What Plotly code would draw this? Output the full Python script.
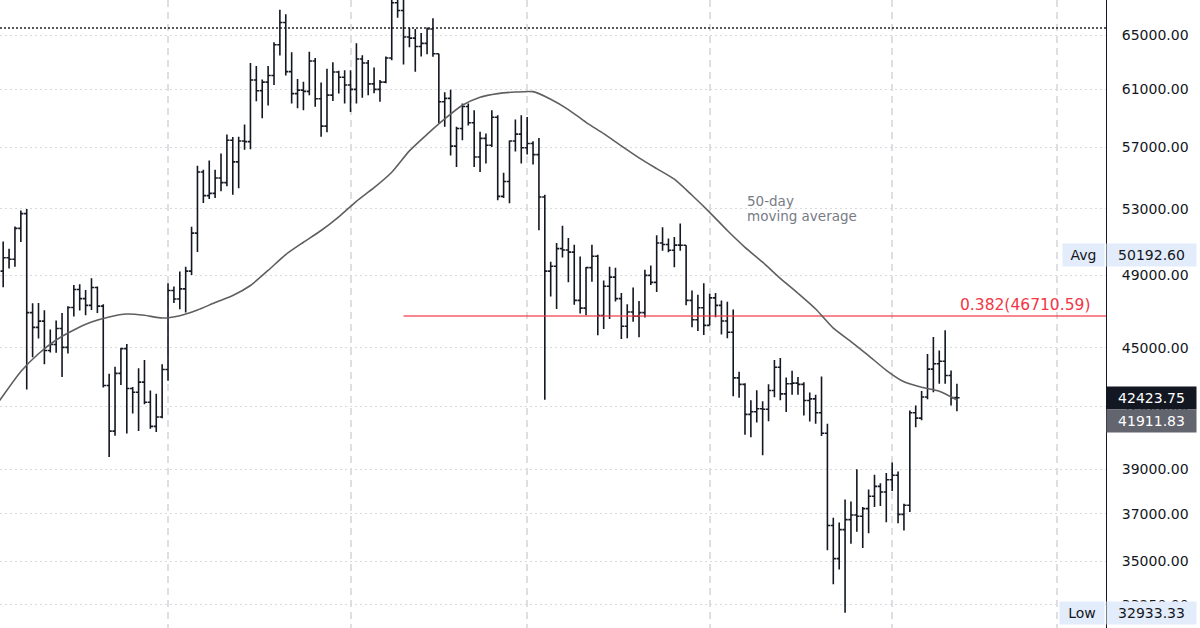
import math
import pandas as pd
import plotly.graph_objects as go

# ---- daily OHLC, 2021-09-03 .. 2022-02-12 ----
start_date = "2021-09-03"
open_ = [49250, 50030, 49940, 51790, 52700, 46900, 46090, 46430, 44850, 45170, 46030, 45020, 47180, 48190, 47680, 47300, 48310, 47260, 43040, 40790, 43660, 44950, 42890, 42700, 43210, 42200, 41020, 41470,
         43860, 48140, 47660, 48230, 49250, 51500, 55350, 53830, 53970, 54960, 54660, 57460, 56010, 57400, 57360, 61680, 60900, 61530, 62010, 64300, 66000, 62290, 60700, 60950, 60860, 63080, 60330, 58420, 60590, 62270, 61880,
         61320, 61000, 63220, 62930, 61400, 61000, 61530, 63300, 67550, 66940, 64880, 64800, 64160, 64400, 65500, 63620, 60120, 60360, 57060, 58260, 59780, 58650, 56330, 57580, 57120, 59030, 53780, 54730, 57400, 57870,
         56950, 57240, 56490, 53740, 49250, 49530, 50570, 50490, 50360, 47580, 47150, 49450, 50120, 46740, 48380, 48900, 47680, 46150, 46930, 46700, 46900, 49000, 48600, 50910, 50820, 50470, 50780, 50770, 47580, 46510, 47170,
         46200, 47720, 47300, 46440, 45830, 43430, 43100, 41600, 41730, 41880, 41850, 42790, 43980, 42620, 43130, 43160, 43100, 42290, 42370, 41680, 40690, 36500, 35100, 36320, 36750, 36950, 36900, 37230, 37780, 38220, 37970,
         38520, 38720, 36980, 37380, 41680, 41420, 42460, 43880, 44160, 44290, 43550, 42430]
high = [51000, 50560, 51900, 52900, 52980, 47420, 47430, 47030, 45970, 46460, 46880, 47250, 48450, 48490, 48170, 48840, 48370, 47360, 43640, 44000, 44980, 45200, 42970, 43920, 44350, 42790, 42630, 44130,
        48550, 48360, 49230, 49500, 51890, 55750, 55500, 56100, 55500, 56560, 57840, 57680, 57700, 58530, 62930, 62700, 61720, 62700, 64490, 67000, 66640, 63730, 61750, 61560, 63770, 63300, 61500, 62500, 62980, 62360, 62400,
        62400, 64400, 63500, 63150, 62600, 61680, 63420, 67790, 68530, 69000, 65620, 65500, 65190, 65620, 66330, 63620, 60800, 60980, 58380, 59990, 60000, 59530, 58030, 57910, 59530, 59180, 55300, 57440, 58870, 59180,
        59050, 57380, 57600, 53880, 49800, 50900, 51950, 51200, 50800, 50100, 49490, 50800, 50200, 48700, 49500, 49440, 47990, 47360, 48300, 47540, 49330, 49580, 51380, 51860, 51180, 51260, 52090, 50770, 48140, 47900, 48550,
        47950, 47990, 47570, 47500, 47070, 43750, 43150, 42300, 42800, 42250, 43100, 44350, 44460, 43450, 43800, 43480, 43200, 42690, 42580, 43500, 41150, 36830, 36630, 37630, 37550, 39000, 37300, 38080, 38750, 38360, 38830,
        39310, 38900, 37450, 41790, 42040, 42760, 44670, 45570, 44850, 45930, 43810, 43130]
low = [48320, 49400, 49500, 50970, 42840, 44500, 45490, 44130, 44750, 44740, 43470, 44690, 46690, 47020, 46750, 47050, 46880, 42940, 39560, 40570, 43070, 40680, 41650, 40800, 42100, 40900, 40750, 41410,
       43280, 47440, 47090, 46900, 49020, 50370, 53360, 53620, 53680, 54100, 54420, 53880, 54300, 56820, 56850, 60150, 58960, 59850, 61320, 63480, 62000, 60000, 59670, 59530, 60590, 59770, 57690, 58000, 60170, 60700, 60000,
       59400, 60000, 60400, 60590, 60720, 60120, 61440, 63130, 66380, 62820, 64100, 62290, 63420, 63580, 63400, 58640, 58370, 56440, 55680, 57460, 58470, 55680, 55350, 55900, 57000, 53530, 53670, 53350, 56700, 55900,
       56500, 55840, 51670, 42320, 47800, 47100, 50040, 48600, 47330, 46850, 46750, 48640, 45670, 46000, 46550, 47510, 45460, 45500, 46400, 45560, 46630, 48450, 48050, 50450, 50350, 49480, 50450, 47310, 46100, 45900, 45680,
       46200, 46650, 45700, 45500, 42500, 42430, 40610, 40500, 41200, 39650, 41270, 42450, 42300, 41720, 42580, 42580, 41550, 41250, 41140, 40550, 35450, 34060, 34650, 32933.33, 35720, 36230, 35540, 36170, 37300, 37350, 36640,
       38010, 36600, 36280, 37080, 40970, 41310, 42350, 42700, 43130, 43130, 42040, 41760]
close = [50030, 49940, 51790, 52700, 46900, 46090, 46430, 44850, 45170, 46030, 45020, 47180, 48190, 47680, 47300, 48310, 47260, 43040, 40790, 43660, 44950, 42890, 42700, 43210, 42200, 41020, 41470, 43860,
         48140, 47660, 48230, 49250, 51500, 55350, 53830, 53970, 54960, 54660, 57460, 56010, 57400, 57360, 61680, 60900, 61530, 62010, 64300, 66000, 62290, 60700, 60950, 60860, 63080, 60330, 58420, 60590, 62270, 61880, 61320,
         61000, 63220, 62930, 61400, 61000, 61530, 63300, 67550, 66940, 64880, 64800, 64160, 64400, 65500, 63620, 60120, 60360, 57060, 58260, 59780, 58650, 56330, 57580, 57120, 59030, 53780, 54730, 57400, 57870, 56950,
         57240, 56490, 53740, 49250, 49530, 50570, 50490, 50360, 47580, 47150, 49450, 50120, 46740, 48380, 48900, 47680, 46150, 46930, 46700, 46900, 49000, 48600, 50910, 50820, 50470, 50780, 50770, 47580, 46510, 47170, 46200,
         47720, 47300, 46440, 45830, 43430, 43100, 41600, 41730, 41880, 41850, 42790, 43980, 42620, 43130, 43160, 43100, 42290, 42370, 41680, 40690, 36500, 35100, 36320, 36750, 36950, 36900, 37230, 37780, 38220, 37970, 38520,
         38720, 36980, 37380, 41680, 41420, 42460, 43880, 44160, 44290, 43550, 42430, 42423.75]

# ---- 50-day moving average (read every 3 days) ----
ma_dates = ["2021-09-02", "2021-09-03", "2021-09-06", "2021-09-09", "2021-09-12", "2021-09-15", "2021-09-18", "2021-09-21", "2021-09-24", "2021-09-27", "2021-09-30",
            "2021-10-03", "2021-10-06", "2021-10-09", "2021-10-12", "2021-10-15", "2021-10-18", "2021-10-21", "2021-10-24", "2021-10-27", "2021-10-30",
            "2021-11-02", "2021-11-05", "2021-11-08", "2021-11-11", "2021-11-14", "2021-11-17", "2021-11-20", "2021-11-23", "2021-11-26", "2021-11-29",
            "2021-12-02", "2021-12-05", "2021-12-08", "2021-12-11", "2021-12-14", "2021-12-17", "2021-12-20", "2021-12-23", "2021-12-26", "2021-12-29",
            "2022-01-01", "2022-01-04", "2022-01-07", "2022-01-10", "2022-01-13", "2022-01-16", "2022-01-19", "2022-01-22", "2022-01-25", "2022-01-28", "2022-01-31",
            "2022-02-03", "2022-02-06", "2022-02-09", "2022-02-12"]
ma_values = [42120, 42540, 43760, 44680, 45410, 45950, 46380, 46660, 46820, 46750, 46600,
             46730, 47040, 47460, 47850, 48420, 49290, 50220, 50950, 51660, 52500,
             53470, 54330, 55330, 56740, 57860, 58920, 59870, 60440, 60700, 60810,
             60840, 60300, 59570, 58680, 57900, 57080, 56280, 55570, 54880, 53850,
             52780, 51660, 50650, 49770, 48830, 47980, 47100, 46050, 45330, 44580, 43820,
             43230, 42950, 42750, 42310]

# ---- levels / labels ----
fib_level = 46710.59
fib_start = "2021-11-10"
dotted_level = 65580
avg_value = 50192.60
low_value = 32933.33
last_price = 42423.75
ma_last = 41911.83
ytick_vals = [33250, 35000, 37000, 39000, 42000, 45000, 49000, 53000, 57000, 61000, 65000]
month_lines = ["2021-10-01", "2021-11-01", "2021-12-01", "2022-01-01", "2022-02-01", "2022-03-01"]
x_range = ["2021-09-02 11:03", "2022-03-09 07:40"]

dates = pd.date_range(start_date, periods=len(close), freq="D")

FONT = "DejaVu Sans"
INK = "#131722"
PLOT_W = 1106

fig = go.Figure()

fig.add_trace(go.Scatter(x=[x_range[0], x_range[1]], y=[dotted_level, dotted_level], mode="lines",
                         line=dict(color="#222222", width=1.5, dash="2px,2px"), hoverinfo="skip"))

fig.add_trace(go.Scatter(x=[fib_start, x_range[1]], y=[fib_level, fib_level], mode="lines",
                         line=dict(color="rgba(242,54,69,0.8)", width=1.5), hoverinfo="skip"))

fig.add_trace(go.Scatter(x=ma_dates, y=ma_values, mode="lines",
                         line=dict(color="#5f5f5f", width=1.6, shape="spline", smoothing=0.6), hoverinfo="skip"))

fig.add_trace(go.Ohlc(x=dates, open=open_, high=high, low=low, close=close,
                      increasing=dict(line=dict(color=INK, width=1.6)),
                      decreasing=dict(line=dict(color=INK, width=1.6)),
                      tickwidth=0.45, hoverinfo="skip"))

annotations = []
annotations.append(dict(xref="paper", yref="y", x=1092 / PLOT_W, y=math.log10(fib_level), xanchor="right", yanchor="bottom",
                        text="0.382(46710.59)", showarrow=False, yshift=0,
                        font=dict(family=FONT, size=15.5, color="#f23645")))
annotations.append(dict(xref="paper", yref="paper", x=745 / PLOT_W, y=1 - 201 / 628, xanchor="left", yanchor="middle",
                        text="50-day", showarrow=False, font=dict(family=FONT, size=13.5, color="#787b86")))
annotations.append(dict(xref="paper", yref="paper", x=745 / PLOT_W, y=1 - 216 / 628, xanchor="left", yanchor="middle",
                        text="moving average", showarrow=False, font=dict(family=FONT, size=13.5, color="#787b86")))

LIGHT = "#e3ecfb"


def box(text, cx, val, w, bg, fg, yshift=0):
    return dict(xref="paper", yref="y", x=cx / PLOT_W, y=math.log10(val), xanchor="center", yanchor="middle",
                text=text, showarrow=False, width=w, height=18, borderpad=2, bgcolor=bg, yshift=yshift,
                font=dict(family=FONT, size=14, color=fg))


annotations.append(box("Avg", 1083.5, avg_value, 37, LIGHT, INK))
annotations.append(box(f"{avg_value:.2f}", 1151.5, avg_value, 85, LIGHT, INK))
annotations.append(box(f"{last_price:.2f}", 1151.5, last_price, 85, INK, "#ffffff", yshift=0))
annotations.append(box(f"{ma_last:.2f}", 1151.5, ma_last, 85, "#62646e", "#ffffff", yshift=-13))
annotations.append(box("Low", 1082, low_value, 40, LIGHT, INK))
annotations.append(box(f"{low_value:.2f}", 1151.5, low_value, 85, LIGHT, INK))

fig.update_layout(
    width=1200, height=628,
    margin=dict(l=0, r=1200 - PLOT_W, t=0, b=0),
    paper_bgcolor="white", plot_bgcolor="white",
    showlegend=False,
    annotations=annotations,
    font=dict(family=FONT, color=INK),
    xaxis=dict(type="date", range=x_range, rangeslider=dict(visible=False),
               tickmode="array", tickvals=month_lines, showticklabels=False,
               showgrid=True, gridcolor="#dedfe3", gridwidth=1.5, griddash="7px,5px",
               zeroline=False, showline=False, ticks=""),
    yaxis=dict(type="log", side="right", range=[4.50984, 4.83107],
               tickmode="array", tickvals=ytick_vals, ticktext=[f"{v:.2f}" for v in ytick_vals],
               showgrid=True, gridcolor="#d9dadf", gridwidth=1, griddash="2px,3px",
               zeroline=False, showline=True, linecolor=INK, linewidth=1,
               ticks="outside", ticklen=12, tickcolor="rgba(0,0,0,0)",
               tickfont=dict(family=FONT, size=14, color=INK)),
)

fig.write_html("out.html",
               config={"displayModeBar": False},
               post_script="document.body.style.margin='0px';document.body.style.padding='0px';document.body.style.overflow='hidden';")
